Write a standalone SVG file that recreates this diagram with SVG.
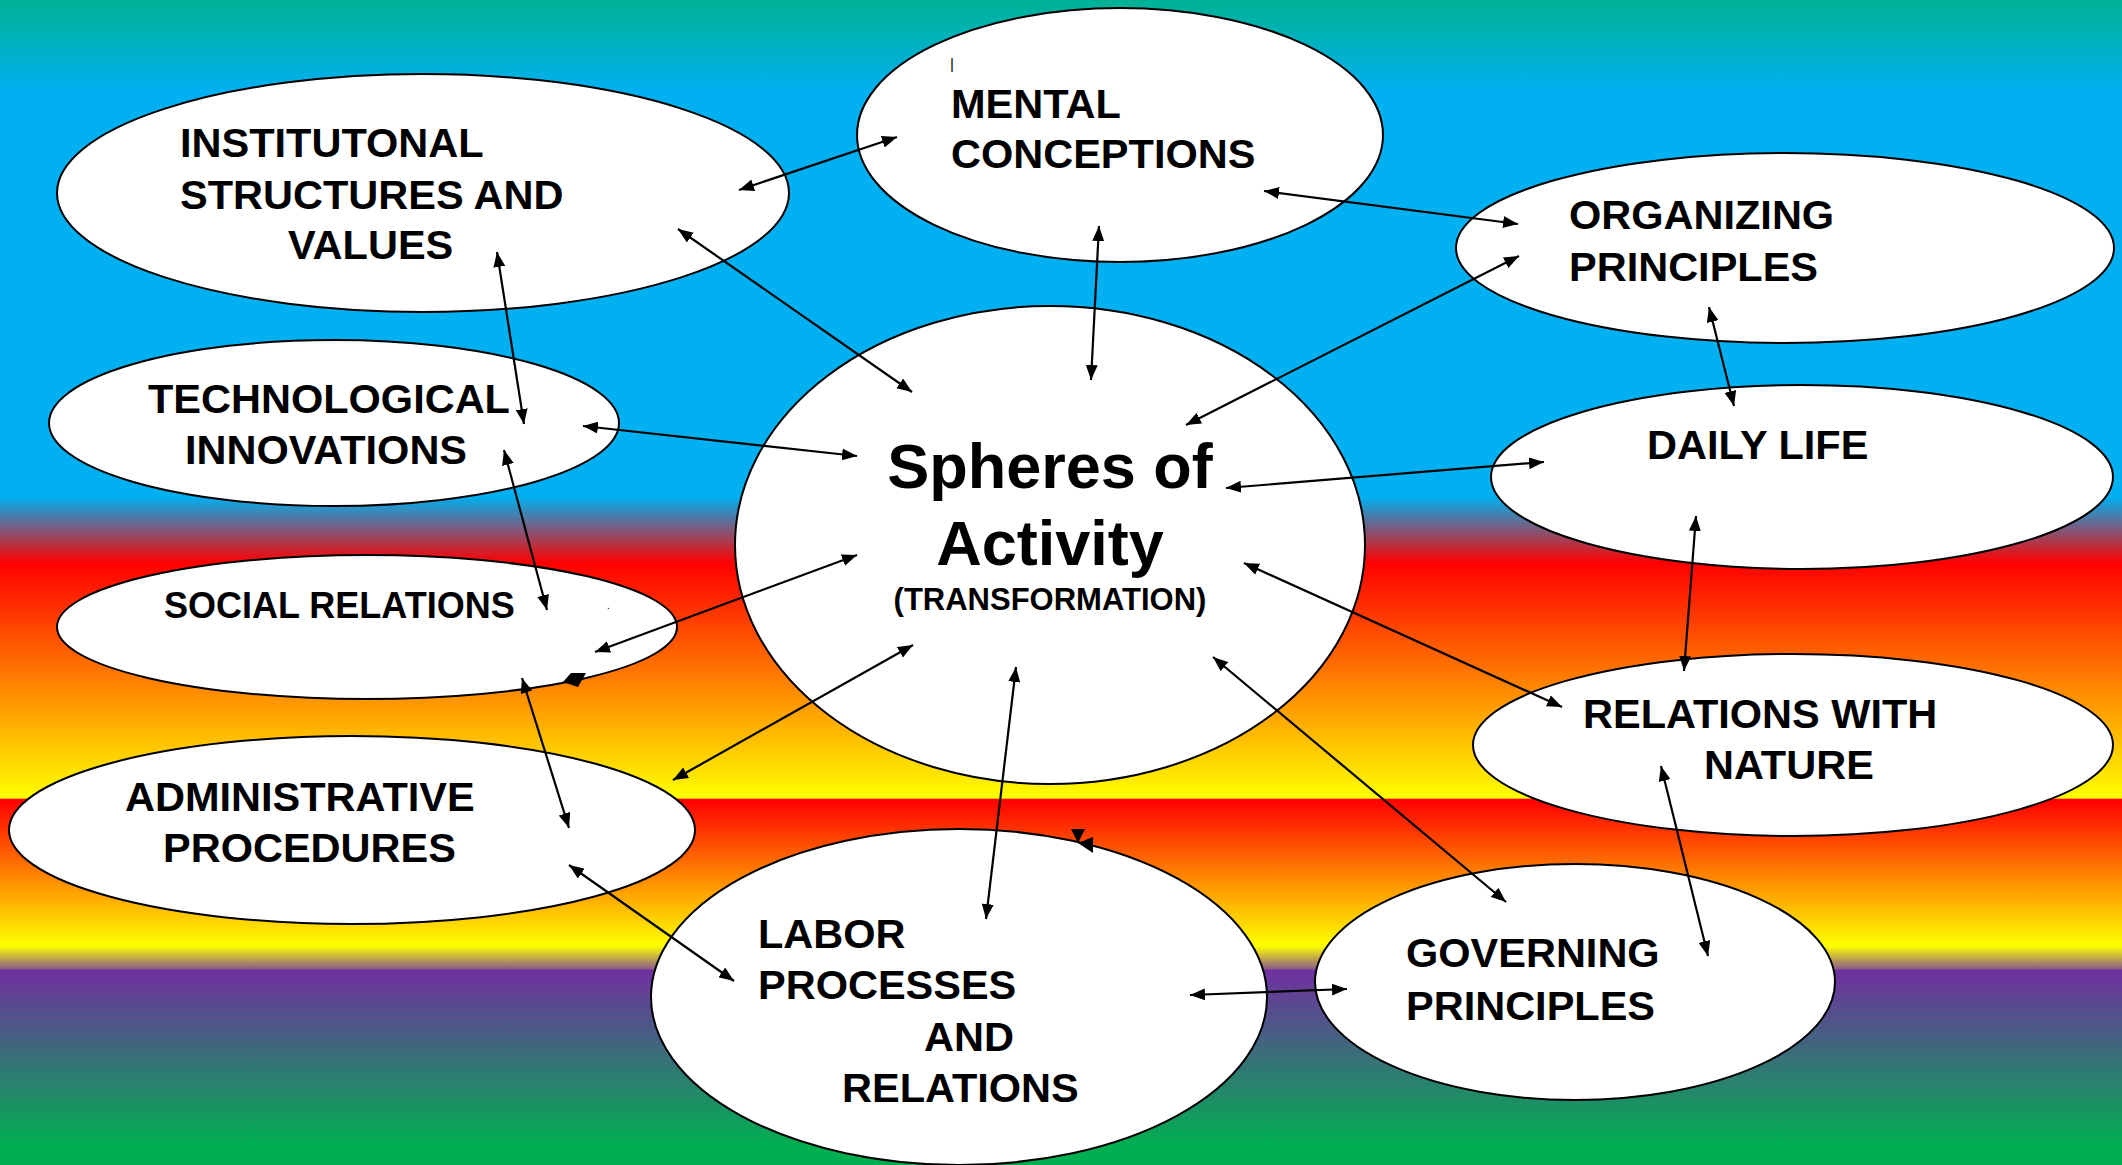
<svg xmlns="http://www.w3.org/2000/svg" width="2122" height="1165" viewBox="0 0 2122 1165">
<defs>
<linearGradient id="bg" gradientUnits="userSpaceOnUse" x1="0" y1="0" x2="0" y2="1165">
<stop offset="0" stop-color="#00b294"/>
<stop offset="0.0773" stop-color="#00b0f0"/>
<stop offset="0.4266" stop-color="#00b0f0"/>
<stop offset="0.4833" stop-color="#ff0000"/>
<stop offset="0.6850" stop-color="#ffff00"/>
<stop offset="0.6863" stop-color="#ff0000"/>
<stop offset="0.8120" stop-color="#ffff00"/>
<stop offset="0.8318" stop-color="#8c5a8a"/>
<stop offset="0.8326" stop-color="#7030a0"/>
<stop offset="0.9845" stop-color="#00b050"/>
<stop offset="1" stop-color="#00b050"/>
</linearGradient>
<marker id="ah" viewBox="0 0 15 12" refX="15" refY="6" markerWidth="15" markerHeight="12" markerUnits="userSpaceOnUse" orient="auto-start-reverse">
<path d="M0,0 L15,6 L0,12 z" fill="#000"/>
</marker>
</defs>
<style>
.node ellipse { fill: #fff; stroke: #000; stroke-width: 2; }
.lbl { font-family: "Liberation Sans", Arial, sans-serif; font-weight: bold; font-size: 41.5px; fill: #000; }
.sm { font-size: 36px; }
.big { font-size: 63px; text-anchor: middle; }
.sub { font-size: 31px; text-anchor: middle; }
.conn line { stroke: #000; stroke-width: 2.2; marker-start: url(#ah); marker-end: url(#ah); }
</style>
<rect x="0" y="0" width="2122" height="1165" fill="url(#bg)"/>

<g id="n-institutional" class="node">
<ellipse cx="423" cy="193" rx="366" ry="119"/>
<text class="lbl" x="180" y="157">INSTITUTONAL</text>
<text class="lbl" x="180" y="209">STRUCTURES AND</text>
<text class="lbl" x="288" y="259">VALUES</text>
</g>
<g id="n-mental" class="node">
<ellipse cx="1120" cy="135" rx="263" ry="127"/>
<text x="950" y="69" font-family="Liberation Sans, Arial, sans-serif" font-size="15" fill="#000">|</text>
<text class="lbl" x="951" y="118">MENTAL</text>
<text class="lbl" x="951" y="168">CONCEPTIONS</text>
</g>
<g id="n-organizing" class="node">
<ellipse cx="1785" cy="248" rx="329" ry="95"/>
<text class="lbl" x="1569" y="229">ORGANIZING</text>
<text class="lbl" x="1569" y="281">PRINCIPLES</text>
</g>
<g id="n-technological" class="node">
<ellipse cx="334" cy="423" rx="285" ry="83"/>
<text class="lbl" x="148" y="413">TECHNOLOGICAL</text>
<text class="lbl" x="185" y="464">INNOVATIONS</text>
</g>
<g id="n-spheres" class="node">
<ellipse cx="1050" cy="545" rx="315" ry="239"/>
<text class="lbl big" x="1050" y="488">Spheres of</text>
<text class="lbl big" x="1050" y="565">Activity</text>
<text class="lbl sub" x="1050" y="610">(TRANSFORMATION)</text>
</g>
<g id="n-daily" class="node">
<ellipse cx="1802" cy="477" rx="311" ry="92"/>
<text class="lbl" x="1647" y="459">DAILY LIFE</text>
</g>
<g id="n-social" class="node">
<ellipse cx="367" cy="627" rx="310" ry="72"/>
<text class="lbl sm" x="164" y="618">SOCIAL RELATIONS</text>
<text x="607" y="609" font-family="Liberation Sans, Arial, sans-serif" font-size="10" fill="#000">.</text>
</g>
<g id="n-nature" class="node">
<ellipse cx="1793" cy="745" rx="320" ry="91"/>
<text class="lbl" x="1583" y="728">RELATIONS WITH</text>
<text class="lbl" x="1704" y="779">NATURE</text>
</g>
<g id="n-administrative" class="node">
<ellipse cx="352" cy="830" rx="343" ry="94"/>
<text class="lbl" x="125" y="811">ADMINISTRATIVE</text>
<text class="lbl" x="163" y="862">PROCEDURES</text>
</g>
<g id="n-labor" class="node">
<ellipse cx="959" cy="997" rx="308" ry="168"/>
<text class="lbl" x="758" y="948">LABOR</text>
<text class="lbl" x="758" y="999">PROCESSES</text>
<text class="lbl" x="924" y="1051">AND</text>
<text class="lbl" x="842" y="1102">RELATIONS</text>
</g>
<g id="n-governing" class="node">
<ellipse cx="1575" cy="982" rx="260" ry="118"/>
<text class="lbl" x="1406" y="967">GOVERNING</text>
<text class="lbl" x="1406" y="1020">PRINCIPLES</text>
</g>

<g id="connectors" class="conn">
<line x1="739" y1="190" x2="897" y2="137"/>
<line x1="678" y1="229" x2="912" y2="392"/>
<line x1="497" y1="252" x2="524" y2="424"/>
<line x1="583" y1="426" x2="857" y2="456"/>
<line x1="504" y1="450" x2="547" y2="610"/>
<line x1="1099" y1="226" x2="1091" y2="380"/>
<line x1="1264" y1="191" x2="1518" y2="224"/>
<line x1="1519" y1="256" x2="1186" y2="425"/>
<line x1="1709" y1="307" x2="1734" y2="406"/>
<line x1="1226" y1="488" x2="1544" y2="462"/>
<line x1="1696" y1="516" x2="1684" y2="671"/>
<line x1="1244" y1="563" x2="1562" y2="707"/>
<line x1="857" y1="555" x2="595" y2="652"/>
<line x1="522" y1="678" x2="569" y2="828"/>
<line x1="913" y1="645" x2="673" y2="780"/>
<line x1="1016" y1="667" x2="986" y2="919"/>
<line x1="1213" y1="657" x2="1506" y2="902"/>
<line x1="569" y1="865" x2="734" y2="981"/>
<line x1="1190" y1="995" x2="1347" y2="989"/>
<line x1="1661" y1="766" x2="1708" y2="956"/>
<path d="M563,682 L571,673 L586,673 L578,687 Z" fill="#000"/>
<path d="M1071,829 L1085,829 L1078,843 Z" fill="#000"/>
<path d="M1078,843 L1093,837 L1093,853 Z" fill="#000"/>
</g>
</svg>
